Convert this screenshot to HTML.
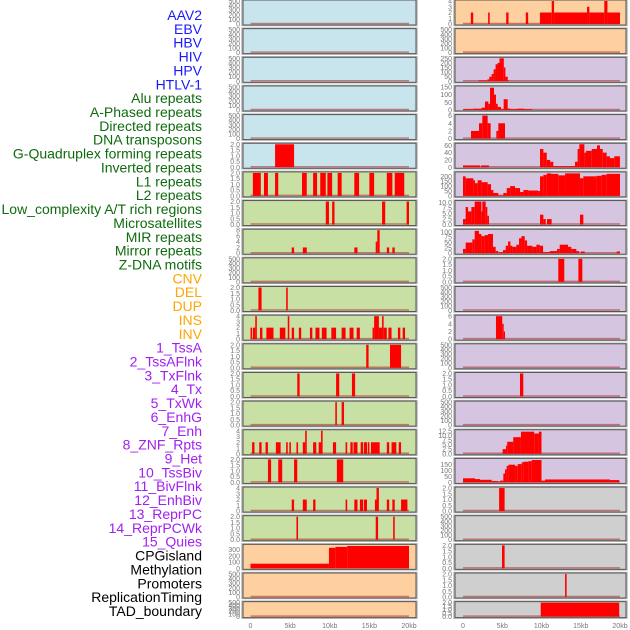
<!DOCTYPE html>
<html><head><meta charset="utf-8"><style>
body{margin:0;background:#fff;width:630px;height:630px;overflow:hidden}
svg{display:block}
</style></head><body>
<svg id="chart" width="630" height="630" xmlns="http://www.w3.org/2000/svg"></svg>
<script>
// ---- data ----
const trackNames=["AAV2","EBV","HBV","HIV","HPV","HTLV-1","Alu repeats","A-Phased repeats","Directed repeats","DNA transposons","G-Quadruplex forming repeats","Inverted repeats","L1 repeats","L2 repeats","Low_complexity A/T rich regions","Microsatellites","MIR repeats","Mirror repeats","Z-DNA motifs","CNV","DEL","DUP","INS","INV","1_TssA","2_TssAFlnk","3_TxFlnk","4_Tx","5_TxWk","6_EnhG","7_Enh","8_ZNF_Rpts","9_Het","10_TssBiv","11_BivFlnk","12_EnhBiv","13_ReprPC","14_ReprPCWk","15_Quies","CPGisland","Methylation","Promoters","ReplicationTiming","TAD_boundary"];
const trackGroups=["v","v","v","v","v","v","r","r","r","r","r","r","r","r","r","r","r","r","r","s","s","s","s","s","c","c","c","c","c","c","c","c","c","c","c","c","c","c","c","o","o","o","o","o"];
const trackYmax=[500,500,500,500,500,2,2,2,8,500,2,4,2,2,2,4,2,4,2,370,500,500,4,500,250,150,6,63,235,10.5,108,2,500,6,500,2,500,12.5,195,2,500,2,2,2];
const tickSets={500:[0,100,200,300,400,500],2:["0.0","0.5","1.0","1.5","2.0"],8:[0,2,4,6,8],4:[0,1,2,3,4],370:[0,100,200,300],250:[0,50,100,150,200,250],150:[0,50,100,150],6:[0,2,4,6],63:[0,20,40,60],235:[0,50,100,150,200],10.5:["0.0","2.5","5.0","7.5","10.0"],108:[0,25,50,75,100],12.5:["0.0","2.5","5.0","7.5","10.0","12.5"],195:[0,50,100,150]};
const xTicks=[0,5,10,15,20];
const xTickLabels=["0","5kb","10kb","15kb","20kb"];
// segments per track: [startKb, endKb, value]
const segments=[
[],[],[],[],[],
[[3.1,5.5,2]],
[[0.3,1.3,2],[1.7,2.2,2],[3.1,3.5,2],[6.5,7.1,2],[7.9,8.4,2],[8.8,9.5,2],[9.7,10.3,2],[11.0,11.5,2],[13.1,13.7,2],[15.0,15.6,2],[17.2,17.9,2],[18.2,19.4,2]],
[[9.5,9.9,2],[10.3,10.6,2],[16.6,17.0,2],[19.7,20.0,2]],
[[5.2,5.5,2],[6.6,7.1,2],[13.1,13.5,2],[15.8,16.0,4],[16.0,16.3,8],[17.2,17.5,2],[17.9,18.2,2]],
[],
[[1.0,1.4,2],[4.5,4.7,2]],
[[-0.1,0.2,2],[0.3,0.6,2],[0.6,0.8,4],[1.2,1.5,2],[2.0,2.9,2],[3.7,4.4,2],[4.7,4.9,4],[5.2,5.5,2],[6.1,6.4,2],[7.5,7.8,2],[8.2,8.7,2],[9.0,9.6,2],[10.2,10.8,2],[11.5,12.0,2],[12.5,13.0,2],[13.4,13.8,2],[15.4,15.6,2],[15.6,16.2,4],[16.2,16.6,2],[16.6,16.8,4],[16.8,17.2,2],[17.4,17.8,2],[18.6,18.9,2],[19.2,19.5,2]],
[[14.6,14.9,2],[17.6,19.0,2]],
[[5.9,6.2,2],[10.8,11.2,2],[12.8,13.2,2]],
[[10.7,10.9,2],[11.5,11.8,2]],
[[0.2,0.5,2],[1.1,1.4,2],[1.9,2.2,2],[3.2,3.8,2],[4.5,4.7,2],[4.9,5.1,2],[5.8,6.0,2],[6.6,6.9,2],[6.9,7.1,4],[7.9,8.3,2],[8.6,8.9,2],[8.9,9.1,4],[10.4,10.8,2],[12.0,12.2,2],[12.6,12.9,2],[13.0,13.5,2],[13.9,14.2,2],[14.3,14.7,2],[14.8,15.0,2],[15.2,16.3,2],[17.2,17.5,2],[17.8,18.4,2],[18.7,19.0,2]],
[[2.2,2.6,2],[3.5,4.0,2],[5.5,5.9,2],[10.9,11.7,2]],
[[5.2,5.5,2],[6.6,7.1,2],[7.9,8.2,2],[12.0,12.2,2],[13.1,13.5,2],[13.8,14.2,2],[14.3,14.7,2],[15.7,15.9,2],[15.9,16.2,4],[17.2,17.5,2],[17.9,18.2,2],[19.0,19.8,2]],
[[5.8,6.0,2],[15.8,16.1,2],[18.0,18.2,2]],
[[0,9.9,75],[9.9,10.7,330],[10.7,12.2,345],[12.2,20.0,360]],
[],[],
[[1.0,1.3,2],[3.2,3.4,2],[5.5,5.8,2],[8.0,8.3,2],[9.8,11.3,2],[11.3,11.6,4],[11.6,15.8,2],[15.8,16.1,3],[16.1,18.0,2],[18.0,18.4,4],[18.4,20.0,2]],
[],
[[2.0,3.1,10],[3.1,3.35,20],[3.35,3.65,50],[3.65,3.9,80],[3.9,4.15,130],[4.15,4.4,185],[4.4,4.65,200],[4.65,5.2,250],[5.2,5.4,150],[5.4,5.7,50],[5.7,5.85,10]],
[[0,1.32,5],[1.32,2.38,8],[2.38,2.8,15],[2.8,3.23,55],[3.23,3.44,40],[3.44,3.95,145],[3.95,4.2,100],[4.2,4.42,40],[4.42,4.84,20],[4.84,5.18,5],[5.18,5.69,70],[5.69,5.94,10],[5.94,6.84,5],[6.84,7.81,8],[7.81,8.83,5]],
[[1.02,2.04,2],[2.04,2.46,4],[2.46,3.14,6],[3.14,3.52,4],[4.25,4.5,2],[4.5,5.35,4]],
[[0,2.17,5],[2.29,3.31,5],[9.81,10.24,50],[10.24,10.67,40],[10.67,11.1,20],[11.1,11.5,15],[11.5,14.27,3],[14.27,14.6,15],[14.6,14.82,50],[14.82,15.46,63],[15.46,15.67,40],[15.67,16.4,45],[16.4,17.07,50],[17.07,17.45,60],[17.45,17.8,50],[17.8,18.3,40],[18.3,18.72,30],[18.72,19.27,25],[19.27,19.99,30]],
[[0,0.34,200],[0.34,1.32,180],[1.32,1.53,160],[1.53,1.87,130],[1.87,2.38,160],[2.38,3.14,140],[3.14,3.57,120],[3.57,3.87,60],[3.87,4.5,30],[4.5,5.14,5],[5.14,5.57,30],[5.57,6.0,80],[6.0,6.63,100],[6.63,7.27,80],[7.27,7.69,40],[7.69,8.33,60],[8.33,9.6,55],[9.6,9.81,50],[9.81,10.24,200],[10.24,10.67,215],[10.67,11.21,230],[11.21,12.14,225],[12.14,13.0,210],[13.0,14.9,230],[14.9,15.33,180],[15.33,17.02,200],[17.02,17.66,205],[17.66,18.3,215],[18.3,20.0,225]],
[[0,0.34,2.5],[0.34,0.64,8],[0.64,1.07,6],[1.07,1.49,8],[1.49,2.34,10.5],[2.34,2.46,6],[2.46,2.89,10.5],[2.89,3.1,8],[3.1,3.31,4],[9.81,10.24,4.5],[10.24,10.54,2.5],[10.7,11.29,2.5],[14.9,15.33,4.5]],
[[0,0.34,20],[0.34,1.19,50],[1.19,1.49,65],[1.49,2.04,105],[2.04,2.34,90],[2.34,2.76,80],[2.76,3.19,85],[3.19,3.82,90],[3.82,4.16,30],[4.16,4.5,10],[4.59,5.1,5],[5.1,5.44,15],[5.44,5.74,35],[5.74,6.04,55],[6.04,6.29,35],[6.29,6.8,30],[6.8,7.14,40],[7.14,7.44,70],[7.44,7.86,80],[7.86,8.16,60],[8.16,8.84,35],[8.84,9.35,30],[9.35,9.77,40],[9.77,10.2,35],[10.2,10.5,5],[10.5,11.05,5],[11.05,11.98,10],[11.98,12.32,20],[12.32,13.38,40],[13.38,13.8,30],[13.8,14.44,20],[14.44,14.78,10],[15.0,15.5,8],[19.57,20.0,8]],
[[12.14,12.9,2],[14.7,15.2,2]],
[],
[[4.2,5.0,6],[5.0,5.18,4],[5.18,5.35,2]],
[],
[[7.26,7.68,2]],
[],
[[5.05,5.48,2.5],[5.48,5.63,4.5],[5.63,6.4,6.5],[6.4,7.38,9],[7.38,9.07,12],[9.07,9.67,11],[9.67,10.0,12]],
[[0,1.53,35],[1.53,2.17,28],[2.17,3.65,22],[3.65,4.5,12],[4.5,4.72,5],[4.72,5.14,15],[5.14,5.35,75],[5.35,5.56,110],[5.56,5.78,140],[5.78,6.63,150],[6.63,6.97,140],[6.97,7.48,155],[7.48,7.69,170],[7.69,8.33,175],[8.33,8.75,180],[8.75,10.0,190],[10.0,10.45,15],[10.45,18.7,25],[18.7,19.9,20]],
[[4.6,5.3,2]],
[],
[[4.97,5.3,2]],
[[13.0,13.2,2]],
[[9.9,19.9,2]]
];
// ---- drawing ----
const NS="http://www.w3.org/2000/svg";
const svg=document.getElementById('chart');
const groupColor={v:"#1a1aff",r:"#0f6b0f",s:"#ffa500",c:"#a020f0",o:"#000000"};
const groupBg={v:"#c8e4ec",r:"#c8e0a4",s:"#fecf9f",c:"#d5c5e1",o:"#cfcfcf"};
const cols=[{px:243,pw:173,x0:250.5,x1:409},{px:455,pw:171,x0:463,x1:620}];
function el(tag,attrs,parent){const e=document.createElementNS(NS,tag);for(const k in attrs)e.setAttribute(k,attrs[k]);(parent||svg).appendChild(e);return e;}
function xScale(c,kb){return c.x0+kb/20*(c.x1-c.x0);}
// labels
trackNames.forEach((n,i)=>{
  const t=el('text',{x:202,y:15+i*13.86+5,'text-anchor':'end','font-family':'Liberation Sans, sans-serif','font-size':'14',fill:groupColor[trackGroups[i]]});
  
  
  t.textContent=n;
});
// panels
trackNames.forEach((n,i)=>{
  const ci=i<22?0:1, row=i%22, c=cols[ci];
  const top=row*28.65, h=row===21?16:25;
  const g=el('g',{});
  
  
  el('rect',{x:c.px-1,y:top-0.5,width:c.pw+2,height:h+1,fill:'none',stroke:'#bbb','stroke-width':1.5},g);
  el('rect',{x:c.px,y:top,width:c.pw,height:h,fill:groupBg[trackGroups[i]],stroke:'#555','stroke-width':1},g);
  const ymax=trackYmax[i];
  const yb=top+h-1, yt=top+1;
  const yS=v=>yb-v/ymax*(yb-yt);
  el('line',{x1:xScale(c,0),x2:xScale(c,20),y1:yb-0.5,y2:yb-0.5,stroke:'rgba(170,40,40,0.55)','stroke-width':1.5},g);
  segments[i].forEach(s=>{
    const x1=xScale(c,Math.max(0,s[0])), x2=xScale(c,s[1]);
    const r=el('rect',{x:x1,y:yS(s[2]),width:Math.max(1.2,x2-x1),height:yb-yS(s[2]),fill:'#ff0000'},g);
    
    
  });
  const ticks=tickSets[ymax]||[0,ymax];
  ticks.forEach(tv=>{
    const v=parseFloat(tv);
    const t=el('text',{x:c.px-3,y:yS(v)+2.5,'text-anchor':'end','font-family':'Liberation Sans, sans-serif','font-size':'7',fill:'#777'},g);
    
    
    t.textContent=tv;
  });
});
// x axes
cols.forEach((c,ci)=>{
  xTicks.forEach((kb,k)=>{
    const t=el('text',{x:xScale(c,kb),y:628,'text-anchor':'middle','font-family':'Liberation Sans, sans-serif','font-size':'7',fill:'#777'});
    
    
    t.textContent=xTickLabels[k];
  });
});
</script>
</body></html>
